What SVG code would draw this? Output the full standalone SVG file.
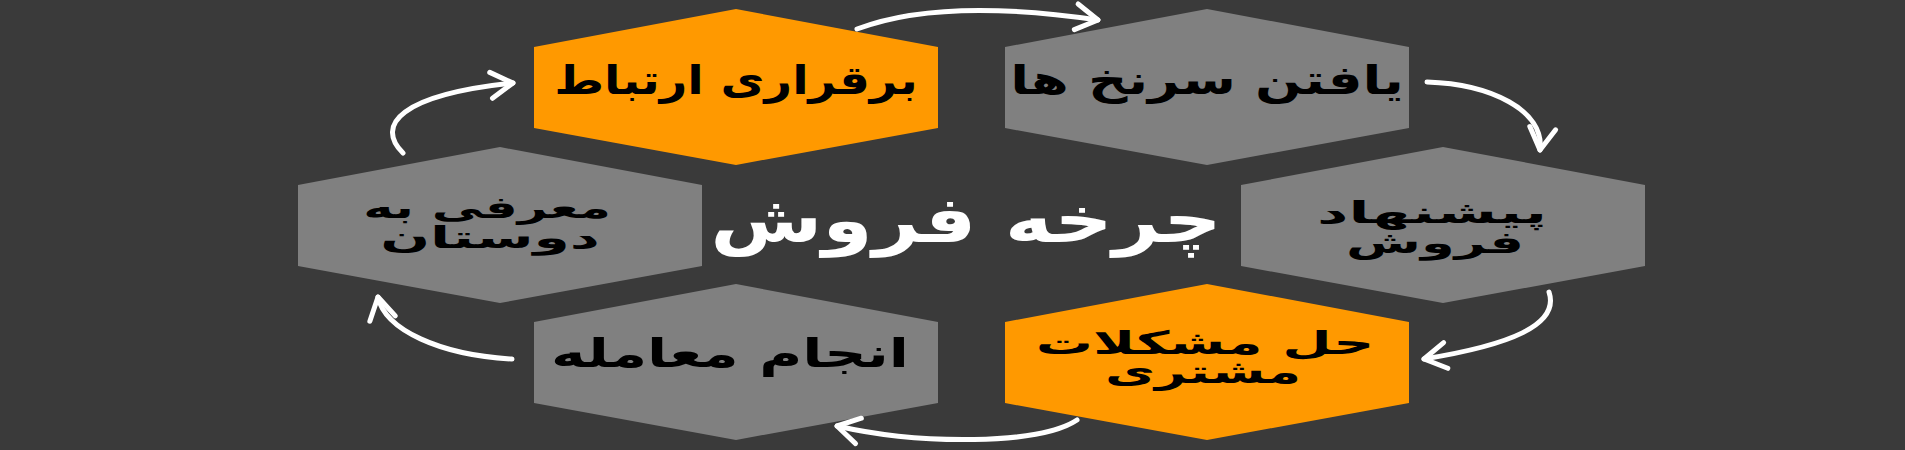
<svg xmlns="http://www.w3.org/2000/svg" width="1905" height="450" viewBox="0 0 1905 450">
<style>
.hex-gray{fill:#808080}
.hex-orange{fill:#ff9900}
.lbl{font-family:"DejaVu Sans",sans-serif;font-weight:bold;fill:#000;text-anchor:middle}
.title{font-family:"DejaVu Sans",sans-serif;font-weight:bold;fill:#fff;text-anchor:middle;font-size:64px}
.arrow{fill:none;stroke:#fff;stroke-width:5;stroke-linecap:round;marker-end:url(#chev)}
</style>
<defs>
<path id="hex" d="M0,-78 L202,-40 L202,41 L0,78 L-202,41 L-202,-40 Z"/>
<marker id="chev" markerUnits="userSpaceOnUse" markerWidth="40" markerHeight="40" viewBox="-30 -20 40 40" refX="0" refY="0" orient="auto">
<path d="M-22,-13 L0,0 L-22,13" fill="none" stroke="#fff" stroke-width="5" stroke-linecap="round" stroke-linejoin="round"/>
</marker>
</defs>
<rect width="1905" height="450" fill="#3a3a3a"/>
<g id="n1"><use href="#hex" x="736" y="87" class="hex-orange"/><text class="lbl" transform="translate(736,94) scale(1.2,1)" font-size="40">برقراری ارتباط</text></g>
<g id="n2"><use href="#hex" x="1207" y="87" class="hex-gray"/><text class="lbl" transform="translate(1207,94) scale(1.37,1)" font-size="40">یافتن سرنخ ها</text></g>
<g id="n3"><use href="#hex" x="1443" y="225" class="hex-gray"/><text class="lbl" transform="translate(1432,223) scale(2.04,1)" font-size="30">پیشنهاد</text><text class="lbl" transform="translate(1435,253) scale(1.81,1)" font-size="30">فروش</text></g>
<g id="n4"><use href="#hex" x="1207" y="362" class="hex-orange"/><text class="lbl" transform="translate(1205,354) scale(1.78,1)" font-size="32">حل مشکلات</text><text class="lbl" transform="translate(1203,383) scale(1.71,1)" font-size="32">مشتری</text></g>
<g id="n5"><use href="#hex" x="736" y="362" class="hex-gray"/><text class="lbl" transform="translate(730,367) scale(1.47,1)" font-size="40">انجام معامله</text></g>
<g id="n6"><use href="#hex" x="500" y="225" class="hex-gray"/><text class="lbl" transform="translate(487,218) scale(1.72,1)" font-size="30">معرفی به</text><text class="lbl" transform="translate(490,248) scale(1.95,1)" font-size="30">دوستان</text></g>
<g id="center"><text class="title" transform="translate(966,242) scale(1.27,1)">چرخه فروش</text></g>
<g id="connectors">
<path class="arrow" d="M857,29 Q941,-3 1098,20"/>
<path class="arrow" d="M1427,82 C1490,84 1545,110 1540,150"/>
<path class="arrow" d="M1549,292 C1560,325 1510,345 1424,359"/>
<path class="arrow" d="M1077,420 C1040,445 920,445 837,426"/>
<path class="arrow" d="M512,359 C440,355 385,330 378,297"/>
<path class="arrow" d="M403,153 C375,125 400,95 513,83"/>
</g>
</svg>
